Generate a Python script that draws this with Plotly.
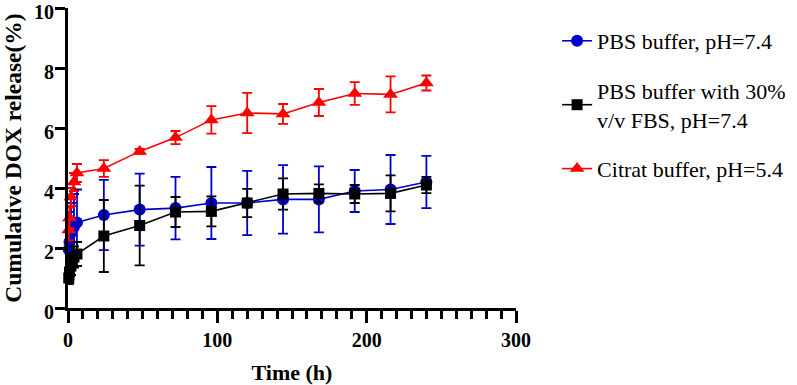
import plotly.graph_objects as go

time_h = [0.5, 1, 2, 4, 6, 24, 48, 72, 96, 120, 144, 168, 192, 216, 240]

pbs_mean = [1.95, 2.2, 2.5, 2.7, 2.85, 3.1, 3.28, 3.33, 3.5, 3.5, 3.62, 3.62, 3.9, 3.95, 4.2]
pbs_err = [1.1, 1.0, 1.0, 1.1, 1.1, 1.17, 1.2, 1.04, 1.2, 1.07, 1.14, 1.1, 0.7, 1.15, 0.87]

fbs_mean = [1.0, 1.2, 1.4, 1.7, 1.8, 2.4, 2.75, 3.2, 3.22, 3.5, 3.8, 3.82, 3.8, 3.82, 4.1]
fbs_err = [0.2, 0.25, 0.3, 0.35, 0.4, 1.2, 1.33, 0.5, 0.5, 0.47, 0.52, 0.3, 0.3, 0.6, 0.27]

cit_mean = [2.6, 3.0, 3.7, 4.2, 4.5, 4.65, 5.22, 5.68, 6.27, 6.5, 6.47, 6.85, 7.15, 7.12, 7.5]
cit_err = [0.35, 0.35, 0.3, 0.3, 0.3, 0.28, 0.08, 0.22, 0.46, 0.67, 0.33, 0.45, 0.38, 0.6, 0.25]

names = ["PBS buffer, pH=7.4", "PBS buffer with 30%<br>v/v FBS, pH=7.4", "Citrat buffer, pH=5.4"]
x_ticks = [0, 100, 200, 300]
y_ticks = [0, 2, 4, 6, 8, 10]

FONT = '"Liberation Serif", "Times New Roman", Times, serif'

series = [
    (names[0], pbs_mean, pbs_err, "#0000cc", "circle", 12),
    (names[1], fbs_mean, fbs_err, "#000000", "square", 11),
    (names[2], cit_mean, cit_err, "#ff0000", "triangle-up", 13),
]

fig = go.Figure()
for i, (nm, ym, ye, col, sym, sz) in enumerate(series):
    fig.add_trace(go.Scatter(
        x=time_h, y=ym, name=nm, mode="lines+markers",
        legendgroup=f"g{i}",
        line=dict(color=col, width=1.6),
        marker=dict(color=col, symbol=sym, size=sz),
        error_y=dict(type="data", array=ye, visible=True, color=col, thickness=1.8, width=5),
        cliponaxis=False,
    ))

axis_common = dict(
    showline=True, linecolor="black", linewidth=3,
    ticks="outside", tickcolor="black", tickwidth=3,
    showgrid=False, zeroline=False, automargin=False,
    ticklabeloverflow="allow",
    tickfont=dict(family=FONT, size=20, color="black", weight="bold"),
)

fig.update_xaxes(
    range=[0, 300], tickvals=x_ticks, ticktext=[str(v) for v in x_ticks],
    ticklen=12,
    title_text="Time (h)", title_standoff=18,
    title_font=dict(family=FONT, size=22, color="black", weight="bold"),
    minor=dict(dtick=10, ticks="outside", ticklen=8, tickwidth=3, tickcolor="black", showgrid=False),
    **axis_common,
)
fig.update_yaxes(
    range=[0, 10], tickvals=y_ticks, ticktext=[str(v) for v in y_ticks],
    ticklen=10, ticklabelstandoff=-3, ticklabelshift=4,
    title_text="Cumulative DOX release(%)", title_standoff=8,
    title_font=dict(family=FONT, size=23.5, color="black", weight="bold"),
    **axis_common,
)

fig.update_layout(
    width=797, height=385,
    margin=dict(l=68, r=281, t=8, b=77),
    plot_bgcolor="white", paper_bgcolor="white",
    font=dict(family=FONT),
    showlegend=True,
    legend=dict(
        xref="container", yref="container",
        x=0.699, y=1 - 20 / 385, xanchor="left", yanchor="top",
        font=dict(family=FONT, size=22, color="black"),
        tracegroupgap=18, traceorder="grouped",
        bgcolor="rgba(0,0,0,0)",
    ),
)

fig.write_html(
    "out.html",
    config={"displayModeBar": False},
    post_script="document.body.style.margin='0';document.body.style.padding='0';",
)
